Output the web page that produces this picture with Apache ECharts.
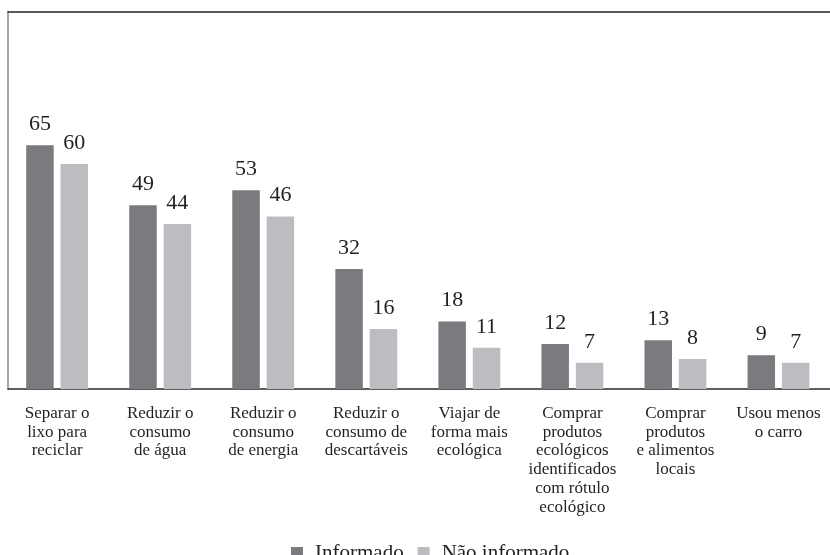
<!DOCTYPE html>
<html>
<head>
<meta charset="utf-8">
<script src="https://cdn.jsdelivr.net/npm/echarts@6/dist/echarts.min.js"></script>
<style>html,body{margin:0;padding:0;background:#fff}#c{width:830px;height:555px}</style>
</head>
<body>
<div id="c"></div>
<script>
var categories = [
  "Separar o\nlixo para\nreciclar",
  "Reduzir o\nconsumo\nde água",
  "Reduzir o\nconsumo\nde energia",
  "Reduzir o\nconsumo de\ndescartáveis",
  "Viajar de\nforma mais\necológica",
  "Comprar\nprodutos\necológicos\nidentificados\ncom rótulo\necológico",
  "Comprar\nprodutos\ne alimentos\nlocais",
  "Usou menos\no carro"
];
var informado = [65, 49, 53, 32, 18, 12, 13, 9];
var naoInformado = [60, 44, 46, 16, 11, 7, 8, 7];
var seriesNames = ["Informado", "Não informado"];

var FONT = "'Liberation Serif', 'DejaVu Serif', serif";
var chart = echarts.init(document.getElementById('c'), null, {renderer: 'canvas'});
chart.setOption({
  animation: false,
  textStyle: {fontFamily: FONT},
  legend: {
    data: seriesNames,
    left: 286,
    top: 537,
    itemWidth: 12,
    itemHeight: 12,
    itemGap: 14,
    icon: 'rect',
    textStyle: {fontFamily: FONT, fontSize: 21, color: '#231f20', lineHeight: 22, padding: [0, 0, 0, 7]}
  },
  grid: [
    {left: 8, right: 0, top: 12, bottom: 166},
    {left: 5.6, right: -6, top: 14, bottom: 166}
  ],
  xAxis: [
    {type: 'category', gridIndex: 0, position: 'bottom', data: categories,
     axisLine: {show: true, lineStyle: {color: '#2a2a2a', width: 1.5}},
     axisTick: {show: false}, axisLabel: {show: false}},
    {type: 'category', gridIndex: 0, position: 'top', data: categories,
     axisLine: {show: true, lineStyle: {color: '#222', width: 1.5}},
     axisTick: {show: false}, axisLabel: {show: false}},
    {type: 'category', gridIndex: 1, position: 'bottom', data: categories,
     axisLine: {show: false}, axisTick: {show: false},
     axisLabel: {interval: 0, margin: 15, fontFamily: FONT, fontSize: 17, lineHeight: 18.8, color: '#231f20'}}
  ],
  yAxis: [
    {type: 'value', gridIndex: 0, min: 0, max: 100,
     axisLine: {show: true, lineStyle: {color: '#888', width: 1.5}},
     axisTick: {show: false}, axisLabel: {show: false}, splitLine: {show: false}},
    {type: 'value', gridIndex: 1, min: 0, max: 100, show: false, splitLine: {show: false}}
  ],
  series: [
    {name: seriesNames[0], type: 'bar', xAxisIndex: 2, yAxisIndex: 1, data: informado,
     barWidth: 27.5, barGap: '25%',
     itemStyle: {color: '#7a7b7f'},
     label: {show: true, position: 'top', distance: 10, fontFamily: FONT, fontSize: 22, color: '#231f20'}},
    {name: seriesNames[1], type: 'bar', xAxisIndex: 2, yAxisIndex: 1, data: naoInformado,
     barWidth: 27.5, barGap: '25%',
     itemStyle: {color: '#bcbdc0'},
     label: {show: true, position: 'top', distance: 10, fontFamily: FONT, fontSize: 22, color: '#231f20'}}
  ]
});
</script>
</body>
</html>
